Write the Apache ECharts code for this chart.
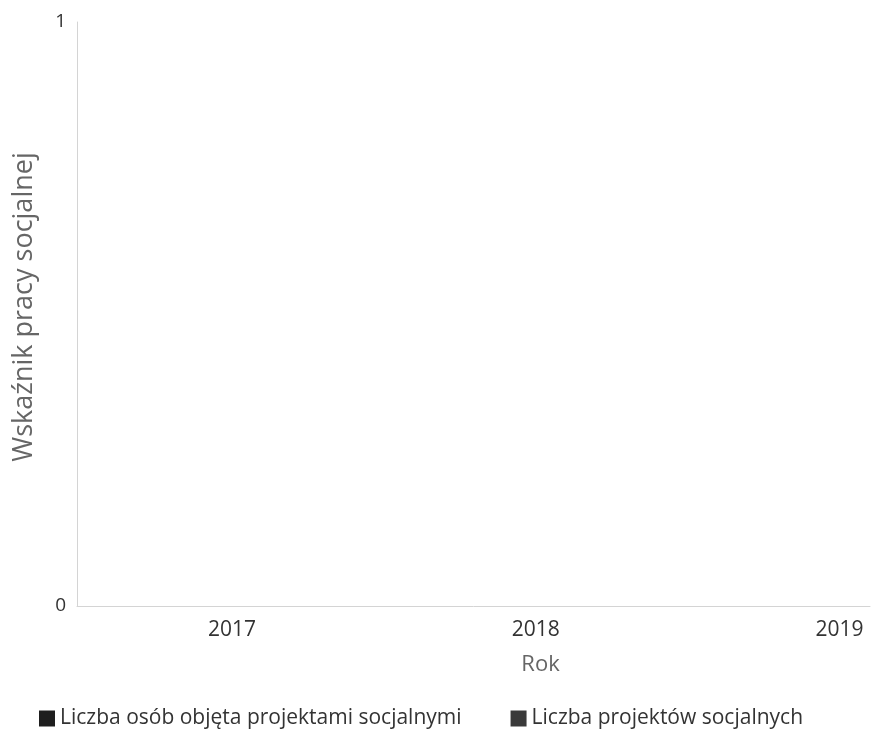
<!DOCTYPE html>
<html><head><meta charset="utf-8">
<script src="https://cdn.jsdelivr.net/npm/echarts@6/dist/echarts.min.js"></script>
<style>html,body{margin:0;padding:0;background:#fff}#c{width:873px;height:731px}</style>
</head><body><div id="c"></div>
<script>
const years = [2017, 2018, 2019];
const osobyValues = [0, 0, 0];
const projektyValues = [0, 0, 0];
const yTicks = [0, 1];
const seriesNames = ['Liczba osób objęta projektami socjalnymi', 'Liczba projektów socjalnych'];

const chart = echarts.init(document.getElementById('c'));
const font = '"Open Sans", "Noto Sans", sans-serif';
chart.setOption({
  animation: false,
  color: ['#1e1e1e', '#3a3a3a'],
  textStyle: { fontFamily: font },
  grid: { left: 77, right: 3, top: 22, bottom: 125, containLabel: false },
  legend: {
    top: 703, left: 34, itemWidth: 16, itemHeight: 16, itemGap: 49,
    icon: 'rect',
    textStyle: { fontFamily: font, fontSize: 21, color: '#333' },
    data: seriesNames
  },
  xAxis: {
    type: 'value', min: 2016.49, max: 2019.1,
    name: 'Rok', nameLocation: 'middle', nameGap: 48,
    nameTextStyle: { fontFamily: font, fontSize: 22, color: '#666', padding: [0, 0, 0, 134] },
    axisLine: { show: true, lineStyle: { color: '#d4d4d4' } },
    axisTick: { show: false },
    splitLine: { show: false },
    axisLabel: { customValues: years, margin: 14, fontSize: 21, color: '#333', fontFamily: font, formatter: v => String(v) }
  },
  yAxis: {
    type: 'value', min: 0, max: 1,
    name: 'Wskaźnik pracy socjalnej', nameLocation: 'middle', nameGap: 39,
    nameTextStyle: { fontFamily: font, fontSize: 27, color: '#666', padding: [0, 0, 0, 14] },
    axisLine: { show: true, lineStyle: { color: '#d4d4d4' } },
    axisTick: { show: false },
    splitLine: { show: false },
    axisLabel: { customValues: yTicks, margin: 11, fontSize: 19, color: '#333', fontFamily: font }
  },
  series: [
    { name: seriesNames[0], type: 'bar', barWidth: 40, data: years.map((y, i) => [y, osobyValues[i]]) },
    { name: seriesNames[1], type: 'bar', barWidth: 40, data: years.map((y, i) => [y, projektyValues[i]]) }
  ]
});
</script></body></html>
